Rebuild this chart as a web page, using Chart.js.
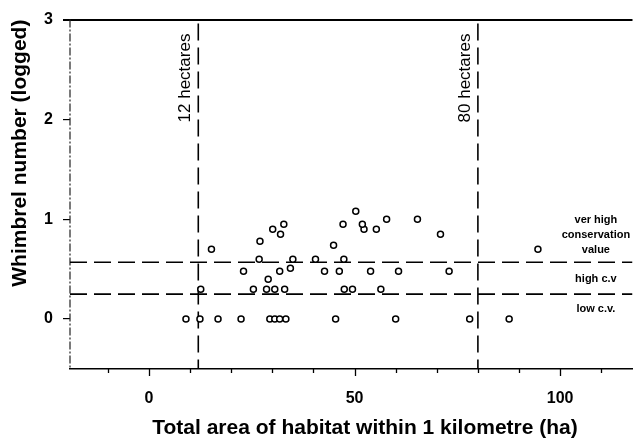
<html>
<head>
<script src="https://cdn.jsdelivr.net/npm/chart.js@4.4.0/dist/chart.umd.min.js"></script>
<style>
  body { margin: 0; background: #fff; }
  #wrap { width: 638px; height: 440px; }
</style>
</head>
<body>
<div id="wrap"><canvas id="whimbrelChart" width="638" height="440"></canvas></div>
<script>
var FONT = 'Arial, "Liberation Sans", sans-serif';

// habitat within 1 km of each site (ha) and whimbrel count (log10)
var areaHa = [
  9.0, 12.4, 16.8, 22.4, 29.4, 30.6, 31.8, 33.3, 45.4, 60.0, 78.0, 87.6,
  12.6, 25.4, 28.6, 30.6, 33.0, 47.5, 49.5, 56.4,
  29.0,
  23.0, 31.8, 34.4, 42.7, 46.3, 53.9, 60.7, 73.0,
  26.8, 35.0, 40.5, 47.4,
  15.2, 94.6, 44.9, 27.0,
  32.0, 70.9,
  30.1, 52.3, 55.3,
  32.8, 47.2, 51.9,
  57.8, 65.3,
  50.3
];
var whimbrelLog = [
  0, 0, 0, 0, 0, 0, 0, 0, 0, 0, 0, 0,
  0.30, 0.30, 0.30, 0.30, 0.30, 0.30, 0.30, 0.30,
  0.40,
  0.48, 0.48, 0.51, 0.48, 0.48, 0.48, 0.48, 0.48,
  0.60, 0.60, 0.60, 0.60,
  0.70, 0.70, 0.74, 0.78,
  0.85, 0.85,
  0.90, 0.90, 0.90,
  0.95, 0.95, 0.95,
  1.00, 1.00,
  1.08
];

var xTicks = [-10, 0, 10, 20, 30, 40, 50, 60, 70, 80, 90, 100, 110];
var xLabelled = [0, 50, 100];
var yTicks = [0, 1, 2, 3];

// area cut-offs and conservation value bands
var areaCuts = [12, 80];
var areaCutLabels = ["12 hectares", "80 hectares"];
var bandCuts = [0.25, 0.57];
var bandLabels = [["ver high", "conservation", "value"], ["high c.v"], ["low c.v."]];

var X_MIN = -19.2, X_MAX = 117.6, Y_MIN = -0.5, Y_MAX = 3;
var X_TITLE = 'Total area of habitat within 1 kilometre (ha)';

var points = areaHa.map(function (a, i) { return { x: a, y: whimbrelLog[i] }; });

var datasets = [{
  type: 'scatter',
  data: points,
  pointStyle: 'circle',
  pointRadius: 3,
  pointBorderWidth: 1.5,
  pointBorderColor: '#000',
  pointBackgroundColor: '#fff',
  order: 0
}];

areaCuts.forEach(function (c) {
  datasets.push({
    type: 'line',
    data: [{ x: c, y: 2.96 }, { x: c, y: Y_MIN }],
    borderColor: '#000', borderWidth: 1.6, borderDash: [17, 7],
    pointRadius: 0, order: 1
  });
});
bandCuts.forEach(function (b) {
  datasets.push({
    type: 'line',
    data: [{ x: X_MIN, y: b }, { x: X_MAX, y: b }],
    borderColor: '#000', borderWidth: 1.6, borderDash: [17, 7],
    pointRadius: 0, order: 1
  });
});
// left axis, drawn dash-dot
datasets.push({
  type: 'line',
  data: [{ x: X_MIN, y: Y_MAX }, { x: X_MIN, y: Y_MIN }],
  borderColor: '#222', borderWidth: 1.2, borderDash: [8, 2, 2, 2],
  pointRadius: 0, clip: false, order: 2
});

// tick marks along the bottom axis, long at labelled values
var xTickMarks = {
  id: 'xTickMarks',
  afterDraw: function (chart) {
    var ctx = chart.ctx, xs = chart.scales.x, bottom = chart.chartArea.bottom;
    ctx.save();
    ctx.strokeStyle = '#000';
    ctx.lineWidth = 1.3;
    xTicks.forEach(function (v) {
      var px = Math.round(xs.getPixelForValue(v)) + 0.5;
      var len = xLabelled.indexOf(v) >= 0 ? 7 : 4;
      ctx.beginPath();
      ctx.moveTo(px, bottom);
      ctx.lineTo(px, bottom + len);
      ctx.stroke();
    });

    // x axis title
    ctx.fillStyle = '#000';
    ctx.font = 'bold 21px ' + FONT;
    ctx.textAlign = 'center';
    ctx.textBaseline = 'middle';
    ctx.fillText(X_TITLE, 365, 428);
    ctx.restore();
  }
};

// text beside the cut-off lines and the band names
var cutText = {
  id: 'cutText',
  afterDatasetsDraw: function (chart) {
    var ctx = chart.ctx, xs = chart.scales.x, ys = chart.scales.y;
    ctx.save();
    ctx.fillStyle = '#000';
    ctx.font = '17px ' + FONT;
    ctx.textAlign = 'left';
    ctx.textBaseline = 'alphabetic';
    areaCuts.forEach(function (c, i) {
      ctx.save();
      ctx.translate(xs.getPixelForValue(c) - 8, ys.getPixelForValue(1.97));
      ctx.rotate(-Math.PI / 2);
      ctx.fillText(areaCutLabels[i], 0, 0);
      ctx.restore();
    });

    ctx.font = 'bold 11px ' + FONT;
    ctx.textAlign = 'center';
    ctx.textBaseline = 'middle';
    var cx = xs.getPixelForValue(108.7);
    var rows = [[0.99, 0.84, 0.69], [0.40], [0.10]];
    bandLabels.forEach(function (lines, i) {
      lines.forEach(function (t, j) {
        ctx.fillText(t, cx, ys.getPixelForValue(rows[i][j]));
      });
    });
    ctx.restore();
  }
};

var ctx = document.getElementById("whimbrelChart").getContext('2d');

var whimbrelChart = new Chart(ctx, {
  data: { datasets: datasets },
  plugins: [xTickMarks, cutText],
  options: {
    responsive: false,
    animation: false,
    layout: { padding: { top: 16, left: 0, right: 0, bottom: 0 } },
    plugins: { legend: { display: false }, tooltip: { enabled: false } },
    scales: {
      x: {
        type: 'linear',
        position: 'bottom',
        min: X_MIN,
        max: X_MAX,
        afterBuildTicks: function (s) { s.ticks = xTicks.map(function (v) { return { value: v }; }); },
        afterFit: function (s) { s.height = 71; },
        ticks: {
          autoSkip: false,
          maxRotation: 0,
          padding: 13,
          color: '#000',
          font: { family: FONT, size: 16, weight: 'bold' },
          callback: function (v) { return xLabelled.indexOf(v) >= 0 ? String(v) : ''; }
        },
        grid: { drawOnChartArea: false, tickLength: 7, tickColor: 'transparent', color: 'transparent' },
        border: { color: '#000', width: 1.5 }
      },
      y: {
        type: 'linear',
        min: Y_MIN,
        max: Y_MAX,
        afterBuildTicks: function (s) { s.ticks = yTicks.map(function (v) { return { value: v }; }); },
        afterFit: function (s) { s.width = 70; },
        ticks: {
          padding: 10,
          color: '#000',
          font: { family: FONT, size: 16, weight: 'bold' }
        },
        grid: {
          drawOnChartArea: true,
          tickLength: 7,
          tickColor: '#000',
          color: function (c) { return c.tick && c.tick.value === 3 ? '#000' : 'transparent'; },
          lineWidth: function (c) { return c.tick && c.tick.value === 3 ? 2 : 1.2; }
        },
        border: { display: false },
        title: {
          display: true,
          text: 'Whimbrel number (logged)',
          align: 'end',
          color: '#000',
          font: { family: FONT, size: 21, weight: 'bold' },
          padding: { top: 8, bottom: 0 }
        }
      }
    }
  }
});
</script>
</body>
</html>
